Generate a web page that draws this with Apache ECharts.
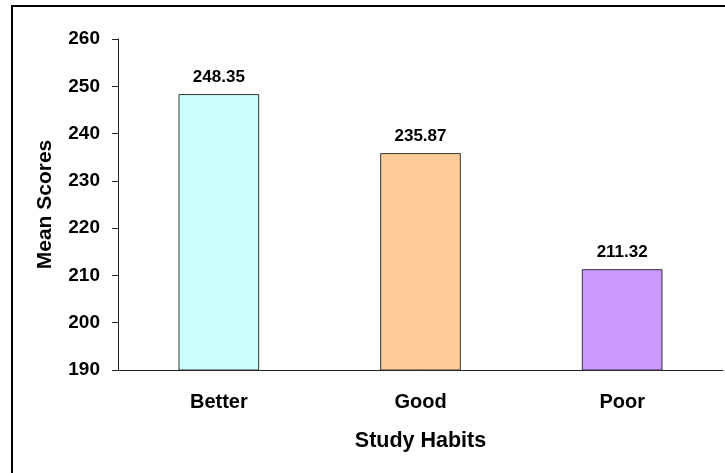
<!DOCTYPE html>
<html>
<head>
<meta charset="utf-8">
<script src="https://cdn.jsdelivr.net/npm/echarts@6/dist/echarts.min.js"></script>
<style>
    html, body {margin: 0; padding: 0; background: #fff;}
    #chart {width: 725px; height: 473px;}
</style>
</head>
<body>
<div id="chart"></div>
<script>
    const categories = ['Better', 'Good', 'Poor'];
    const meanScores = [248.35, 235.87, 211.32];
    const barColors = ['#CCFFFF', '#FFCC99', '#CC99FF'];
    const yTicks = [190, 200, 210, 220, 230, 240, 250, 260];

    const font = '"Liberation Sans", Arial, sans-serif';
    const chart = echarts.init(document.getElementById('chart'));

    chart.setOption({
        animation: false,
        backgroundColor: '#fff',
        graphic: [{
            type: 'rect',
            shape: {x: 12, y: 6, width: 760, height: 520},
            style: {fill: 'none', stroke: '#000', lineWidth: 2},
            silent: true
        }],
        grid: {left: 118, top: 39, right: 2, bottom: 103},
        xAxis: {
            type: 'category',
            data: categories,
            name: 'Study Habits',
            nameLocation: 'middle',
            nameGap: 60,
            nameTextStyle: {color: '#000', fontFamily: font, fontWeight: 'bold', fontSize: 21.5},
            axisLine: {lineStyle: {color: '#222', width: 1}},
            axisTick: {length: 7, lineStyle: {color: '#222'}},
            axisLabel: {margin: 22, color: '#000', fontFamily: font, fontWeight: 'bold', fontSize: 20},
            splitLine: {show: false}
        },
        yAxis: {
            type: 'value',
            min: yTicks[0],
            max: yTicks[yTicks.length - 1],
            interval: 10,
            name: 'Mean Scores',
            nameLocation: 'middle',
            nameGap: 62,
            nameTextStyle: {color: '#000', fontFamily: font, fontWeight: 'bold', fontSize: 21},
            axisLine: {show: true, lineStyle: {color: '#222', width: 1}},
            axisTick: {show: true, length: 6, lineStyle: {color: '#222'}},
            axisLabel: {margin: 18, color: '#000', fontFamily: font, fontWeight: 'bold', fontSize: 19},
            splitLine: {show: false}
        },
        series: [{
            type: 'bar',
            barWidth: '40%',
            data: meanScores.map((v, i) => ({
                value: v,
                itemStyle: {color: barColors[i]}
            })),
            itemStyle: {borderColor: '#333', borderWidth: 1},
            label: {
                show: true,
                position: 'top',
                distance: 8,
                formatter: p => p.value.toFixed(2),
                color: '#000',
                fontFamily: font,
                fontWeight: 'bold',
                fontSize: 17
            }
        }]
    });
</script>
</body>
</html>
